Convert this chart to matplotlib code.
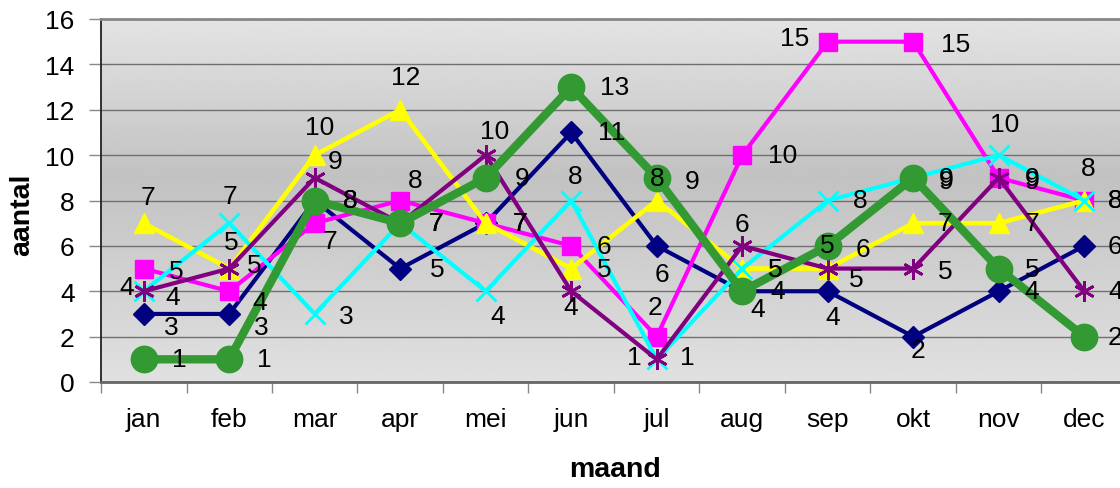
import numpy as np
import matplotlib.pyplot as plt

months = ["jan", "feb", "mar", "apr", "mei", "jun", "jul", "aug", "sep", "okt", "nov", "dec"]

navy = [3, 3, 8, 5, 7, 11, 6, 4, 4, 2, 4, 6]
magenta = [5, 4, 7, 8, 7, 6, 2, 10, 15, 15, 9, 8]
yellow = [7, 5, 10, 12, 7, 5, 8, 5, 5, 7, 7, 8]
cyan = [4, 7, 3, 7, 4, 8, 1, 5, 8, 9, 10, 8]
purple = [4, 5, 9, 7, 10, 4, 1, 6, 5, 5, 9, 4]
green = [1, 1, 8, 7, 9, 13, 9, 4, 6, 9, 5, 2]

# label offsets in pixels (dx, dy with dy pointing down)
offsets = {
    "navy": [(28, 13), (32, 13), (35, 0), (37, 0), (34, 0), (40, 0),
             (5, 28), (35, 0), (5, 26), (5, 13), (33, 0), (31, 0)],
    "magenta": [(33, 2), (30, 11), (15, 18), (15, -20), (34, 0), (33, 0),
                (-2, -30), (40, 0), (-33, -4), (42, 2), (33, 0), (31, 0)],
    "yellow": [(4, -26), (2, -27), (5, -28), (5, -33), (34, 0), (33, 0),
               (0, -22), (33, 0), (0, -24), (32, 0), (33, 0), (4, -32)],
    "cyan": [(29, 6), (1, -27), (32, 2), (36, 0), (12, 25), (4, -24),
             (-22, -2), (33, 0), (32, 0), (33, 0), (6, -31), (31, 0)],
    "purple": [(-17, -4), (25, -4), (20, -17), (36, 0), (9, -24), (-1, 16),
               (31, -2), (0, -22), (29, 10), (32, 2), (33, 3), (31, 0)],
    "green": [(36, 0), (35, 0), (35, 0), (36, 0), (36, 0), (43, 0),
              (35, 3), (15, 18), (35, 3), (33, 3), (34, 0), (31, 0)],
}

series = [
    ("navy", navy, "#000080", "D", 11, 3.0),
    ("magenta", magenta, "#FF00FF", "s", 13, 3.0),
    ("yellow", yellow, "#FFFF00", "^", 14, 3.3),
    ("cyan", cyan, "#00FFFF", "x", 14, 3.0),
    ("purple", purple, "#800080", (6, 2, 0), 15, 3.0),
    ("green", green, "#339933", "o", 19, 6.0),
]

plt.rcParams["font.family"] = ["Liberation Sans", "DejaVu Sans"]

fig = plt.figure(figsize=(11.2, 4.89), dpi=100)
ax = fig.add_axes([101 / 1120, 1 - 383 / 489, 12 * 85.5 / 1120, 363 / 489])

# gradient background
yy = np.linspace(0, 16, 200)
shade = np.interp(yy, [0, 9, 16], [0.88, 0.76, 0.89])
grad = np.repeat(shade[:, None], 2, axis=1)
ax.imshow(grad, extent=[-0.5, 11.5, 0, 16], origin="lower", aspect="auto",
          cmap="gray", vmin=0, vmax=1, zorder=0)

x = np.arange(len(months))
for name, vals, color, marker, ms, lw in series:
    mew = 2 if marker == "x" or isinstance(marker, tuple) else 1
    ax.plot(x, vals, color=color, linewidth=lw, marker=marker, markersize=ms,
            markeredgewidth=mew, markeredgecolor=color, zorder=3)

for name, vals, color, marker, ms, lw in series:
    for i, v in enumerate(vals):
        dx, dy = offsets[name][i]
        ax.annotate(str(v), (i, v), xytext=(dx, -dy), textcoords="offset pixels",
                    ha="center", va="center", fontsize=19, color="black", zorder=5)

ax.set_xlim(-0.5, 11.5)
ax.set_ylim(0, 16)
ax.set_yticks(range(0, 17, 2))
ax.yaxis.grid(True, color="#707070", linewidth=1)
for gl in ax.get_ygridlines():
    gl.set_zorder(1)

ax.set_xticks(x)
ax.set_xticklabels(months)
ax.set_xticks(np.arange(-0.5, 12, 1), minor=True)
ax.tick_params(axis="x", which="major", length=0, pad=18, labelsize=19)
ax.tick_params(axis="x", which="minor", length=8, color="#888888", width=1)
ax.tick_params(axis="y", length=9, color="#888888", width=1, pad=10, labelsize=19)

ax.spines["left"].set_color("#222222")
ax.spines["left"].set_linewidth(1.3)
ax.spines["bottom"].set_color("#666666")
ax.spines["bottom"].set_linewidth(2)
ax.spines["top"].set_color("#888888")
ax.spines["top"].set_linewidth(2)
ax.spines["right"].set_visible(False)

fig.text(22 / 1120, 1 - 215 / 489, "aantal", rotation=90, ha="center", va="center",
         fontsize=20.5, fontweight="bold")
fig.text(615 / 1120, 1 - 470 / 489, "maand", ha="center", va="center",
         fontsize=20.5, fontweight="bold")

fig.savefig("out.png", dpi=100)
